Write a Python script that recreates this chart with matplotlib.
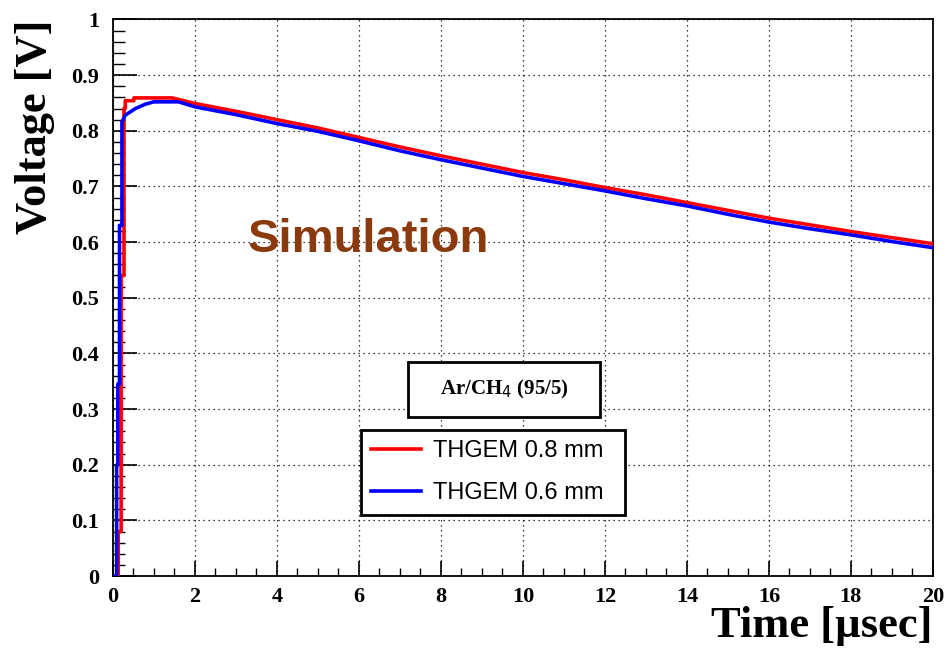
import numpy as np
import matplotlib
matplotlib.use("Agg")
import matplotlib.pyplot as plt
from matplotlib.ticker import MultipleLocator, FormatStrFormatter
from matplotlib.patches import Rectangle

# THGEM 0.8 mm (red)
red_t = [0.00, 0.13, 0.13, 0.20, 0.20, 0.27, 0.27, 0.30, 0.30, 0.51, 0.51, 1.45,
         2.0, 3.0, 4.0, 5.0, 6.0, 7.0, 8.0, 9.0, 10.0, 11.0, 12.0, 13.0, 14.0,
         15.0, 16.0, 17.0, 18.0, 19.0, 20.0]
red_v = [0.0, 0.0, 0.08, 0.08, 0.54, 0.54, 0.84, 0.84, 0.854, 0.854, 0.859, 0.859,
         0.849, 0.835, 0.820, 0.805, 0.788, 0.771, 0.755, 0.740, 0.725, 0.712,
         0.698, 0.685, 0.671, 0.657, 0.643, 0.631, 0.619, 0.608, 0.597]

# THGEM 0.6 mm (blue)
blue_t = [0.00, 0.09, 0.09, 0.12, 0.12, 0.16, 0.16, 0.22, 0.22, 0.30, 0.55, 0.80,
          1.0, 1.6, 2.0, 3.0, 4.0, 5.0, 6.0, 7.0, 8.0, 9.0, 10.0, 11.0, 12.0,
          13.0, 14.0, 15.0, 16.0, 17.0, 18.0, 19.0, 20.0]
blue_v = [0.0, 0.0, 0.20, 0.20, 0.345, 0.345, 0.63, 0.63, 0.816, 0.828, 0.840, 0.848,
          0.852, 0.852, 0.843, 0.829, 0.813, 0.799, 0.782, 0.764, 0.748, 0.733,
          0.718, 0.705, 0.692, 0.678, 0.665, 0.650, 0.636, 0.624, 0.613, 0.601, 0.590]

legend_labels = ["THGEM 0.8 mm", "THGEM 0.6 mm"]
gas_label = "Ar/CH$_4$ (95/5)"

serif = "Liberation Serif"
sans = "Liberation Sans"

fig = plt.figure(figsize=(9.49, 6.48), dpi=100)
ax = fig.add_axes([0.119, 0.111, 0.864, 0.859])

ax.plot(red_t, red_v, color="#ff0000", lw=2.6, zorder=3, label=legend_labels[0])
ax.plot(blue_t, blue_v, color="#0000ff", lw=2.6, zorder=3, label=legend_labels[1])

ax.set_xlim(0, 20)
ax.set_ylim(0, 1)
ax.xaxis.set_major_locator(MultipleLocator(2))
ax.xaxis.set_minor_locator(MultipleLocator(0.5))
ax.yaxis.set_major_locator(MultipleLocator(0.1))
ax.yaxis.set_minor_locator(MultipleLocator(0.02))
ax.yaxis.set_major_formatter(FormatStrFormatter("%g"))
ax.xaxis.set_major_formatter(FormatStrFormatter("%g"))

ax.tick_params(axis="both", which="both", direction="in", top=False, right=False, color="black")
ax.tick_params(axis="y", which="major", length=17, width=1.2, pad=10)
ax.tick_params(axis="y", which="minor", length=8.5, width=1.0)
ax.tick_params(axis="x", which="major", length=11, width=1.2, pad=8)
ax.tick_params(axis="x", which="minor", length=5.5, width=1.0)

for lab in ax.get_xticklabels() + ax.get_yticklabels():
    lab.set_fontfamily(serif)
    lab.set_fontweight("bold")
    lab.set_fontsize(16)

for sp in ax.spines.values():
    sp.set_linewidth(1.3)

ax.grid(True, which="major", color="black", linestyle=(0, (1, 3)), lw=0.9, zorder=0)
ax.set_axisbelow(True)

fig.text(0.037, 0.97, "Voltage [V]", rotation=90, ha="center", va="top",
         fontfamily=serif, fontweight="bold", fontsize=32)
fig.text(0.983, 0.003, "Time [\u00b5sec]", ha="right", va="bottom",
         fontfamily=serif, fontweight="bold", fontsize=32)

ax.text(0.312, 0.603, "Simulation", transform=ax.transAxes, ha="center", va="center",
        fontfamily=sans, fontweight="bold", fontsize=34, color="#8b3a0e", zorder=4)

# gas mixture box
ax.add_patch(Rectangle((0.360, 0.285), 0.234, 0.099, transform=ax.transAxes,
                       facecolor="white", edgecolor="black", lw=2, zorder=5))
ax.text(0.477, 0.335, gas_label, transform=ax.transAxes, ha="center", va="center",
        fontfamily=serif, fontweight="bold", fontsize=15, zorder=6)

leg = ax.legend(loc="lower left", bbox_to_anchor=(0.302, 0.110, 0.322, 0.154),
                mode="expand", fancybox=False, framealpha=1, edgecolor="black",
                prop={"family": sans, "size": 17}, handlelength=2.1, handletextpad=0.5,
                borderpad=0.45, labelspacing=0.85, borderaxespad=0)
leg.get_frame().set_linewidth(2)
leg.set_zorder(6)

fig.savefig("out.png", dpi=100)
